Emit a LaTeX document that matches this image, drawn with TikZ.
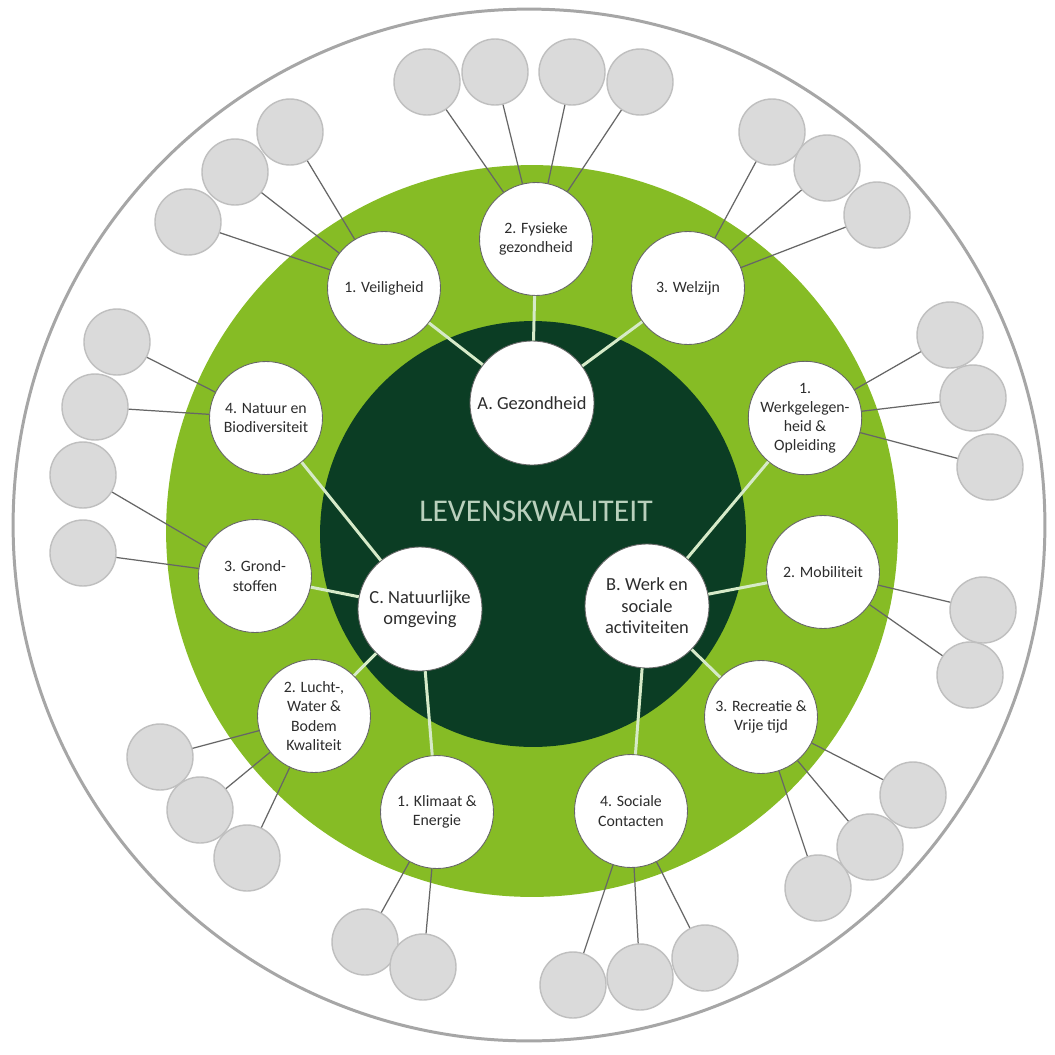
\documentclass[tikz,border=0pt]{standalone}
\usepackage{fontspec}
\setmainfont{Carlito}
\usepackage{tikz}
\tikzset{>=stealth}
\definecolor{donkergroen}{RGB}{11,61,36}
\definecolor{lichtgroen}{RGB}{134,188,37}
\definecolor{spaakkleur}{RGB}{214,234,200}
\definecolor{bladgrijs}{RGB}{218,218,218}
\definecolor{randgrijs}{RGB}{166,166,166}
\definecolor{tekstgrijs}{RGB}{45,45,45}
\definecolor{titelkleur}{RGB}{185,208,188}
\tikzset{
  hoofd/.style={circle,draw=black!60,line width=0.5pt,fill=white,minimum size=2.48cm,inner sep=0pt,align=center,text=tekstgrijs,font=\fontsize{10.5}{12.3}\selectfont},
  sub/.style={circle,draw=black!60,line width=0.5pt,fill=white,minimum size=2.26cm,inner sep=0pt,align=center,text=tekstgrijs,font=\fontsize{9}{10.9}\selectfont},
  blad/.style={circle,draw=black!25,line width=0.8pt,fill=bladgrijs,minimum size=1.32cm,inner sep=0pt},
  spaak/.style={line width=1.7pt,spaakkleur},
  tak/.style={line width=0.7pt,black!60},
}

\begin{document}
\begin{tikzpicture}[x=0.02cm,y=-0.02cm]
  \useasboundingbox (0,0) rectangle (1055,1055);
  \fill[white] (0,0) rectangle (1055,1055);
  \draw[line width=1.7pt,randgrijs] (529,525) circle (10.32cm);
  \fill[lichtgroen] (532,531) circle (7.32cm);
  \fill[donkergroen] (533,534) circle (4.26cm);
  \node[text=titelkleur,font=\fontsize{18}{20}\selectfont] at (536,511) (titel) {LEVENSKWALITEIT};
  % hoofdthema's
  \node[hoofd] at (532,403) (A) {A. Gezondheid};
  \node[hoofd] at (647,606) (B) {B. Werk en\\sociale\\activiteiten};
  \node[hoofd] at (420,609) (C) {C. Natuurlijke\\omgeving};
  % subthema's
  \node[sub] at (384,288) (vei) {1. Veiligheid};
  \node[sub] at (536,239) (fys) {2. Fysieke\\gezondheid};
  \node[sub] at (688,288) (wel) {3. Welzijn};
  \node[sub] at (805,418) (wer) {1.\\Werkgelegen-\\heid \&\\Opleiding};
  \node[sub] at (823,572) (mob) {2. Mobiliteit};
  \node[sub] at (761,717) (rec) {3. Recreatie \&\\Vrije tijd};
  \node[sub] at (631,811) (soc) {4. Sociale\\Contacten};
  \node[sub] at (437,812) (kli) {1. Klimaat \&\\Energie};
  \node[sub] at (314,716) (luc) {2. Lucht-,\\Water \&\\Bodem\\Kwaliteit};
  \node[sub] at (255,576) (gro) {3. Grond-\\stoffen};
  \node[sub] at (266,418) (nat) {4. Natuur en\\Biodiversiteit};
  \draw[spaak] (A)--(vei);
  \draw[spaak] (A)--(fys);
  \draw[spaak] (A)--(wel);
  \draw[spaak] (B)--(wer);
  \draw[spaak] (B)--(mob);
  \draw[spaak] (B)--(rec);
  \draw[spaak] (B)--(soc);
  \draw[spaak] (C)--(kli);
  \draw[spaak] (C)--(luc);
  \draw[spaak] (C)--(gro);
  \draw[spaak] (C)--(nat);
  % indicatoren
  \node[blad] at (427,82) (fys1) {};
  \node[blad] at (495,72) (fys2) {};
  \node[blad] at (572,72) (fys3) {};
  \node[blad] at (640,82) (fys4) {};
  \node[blad] at (290,132) (vei1) {};
  \node[blad] at (235,172) (vei2) {};
  \node[blad] at (188,222) (vei3) {};
  \node[blad] at (772,132) (wel1) {};
  \node[blad] at (827,168) (wel2) {};
  \node[blad] at (877,215) (wel3) {};
  \node[blad] at (950,335) (wer1) {};
  \node[blad] at (973,398) (wer2) {};
  \node[blad] at (990,467) (wer3) {};
  \node[blad] at (983,610) (mob1) {};
  \node[blad] at (970,675) (mob2) {};
  \node[blad] at (913,795) (rec1) {};
  \node[blad] at (870,847) (rec2) {};
  \node[blad] at (818,888) (rec3) {};
  \node[blad] at (573,985) (soc1) {};
  \node[blad] at (640,977) (soc2) {};
  \node[blad] at (705,958) (soc3) {};
  \node[blad] at (365,942) (kli1) {};
  \node[blad] at (423,967) (kli2) {};
  \node[blad] at (160,757) (luc1) {};
  \node[blad] at (200,810) (luc2) {};
  \node[blad] at (247,858) (luc3) {};
  \node[blad] at (83,475) (gro1) {};
  \node[blad] at (83,553) (gro2) {};
  \node[blad] at (117,342) (nat1) {};
  \node[blad] at (95,407) (nat2) {};
  \draw[tak] (fys)--(fys1);
  \draw[tak] (fys)--(fys2);
  \draw[tak] (fys)--(fys3);
  \draw[tak] (fys)--(fys4);
  \draw[tak] (vei)--(vei1);
  \draw[tak] (vei)--(vei2);
  \draw[tak] (vei)--(vei3);
  \draw[tak] (wel)--(wel1);
  \draw[tak] (wel)--(wel2);
  \draw[tak] (wel)--(wel3);
  \draw[tak] (wer)--(wer1);
  \draw[tak] (wer)--(wer2);
  \draw[tak] (wer)--(wer3);
  \draw[tak] (mob)--(mob1);
  \draw[tak] (mob)--(mob2);
  \draw[tak] (rec)--(rec1);
  \draw[tak] (rec)--(rec2);
  \draw[tak] (rec)--(rec3);
  \draw[tak] (soc)--(soc1);
  \draw[tak] (soc)--(soc2);
  \draw[tak] (soc)--(soc3);
  \draw[tak] (kli)--(kli1);
  \draw[tak] (kli)--(kli2);
  \draw[tak] (luc)--(luc1);
  \draw[tak] (luc)--(luc2);
  \draw[tak] (luc)--(luc3);
  \draw[tak] (gro)--(gro1);
  \draw[tak] (gro)--(gro2);
  \draw[tak] (nat)--(nat1);
  \draw[tak] (nat)--(nat2);
\end{tikzpicture}
\end{document}
